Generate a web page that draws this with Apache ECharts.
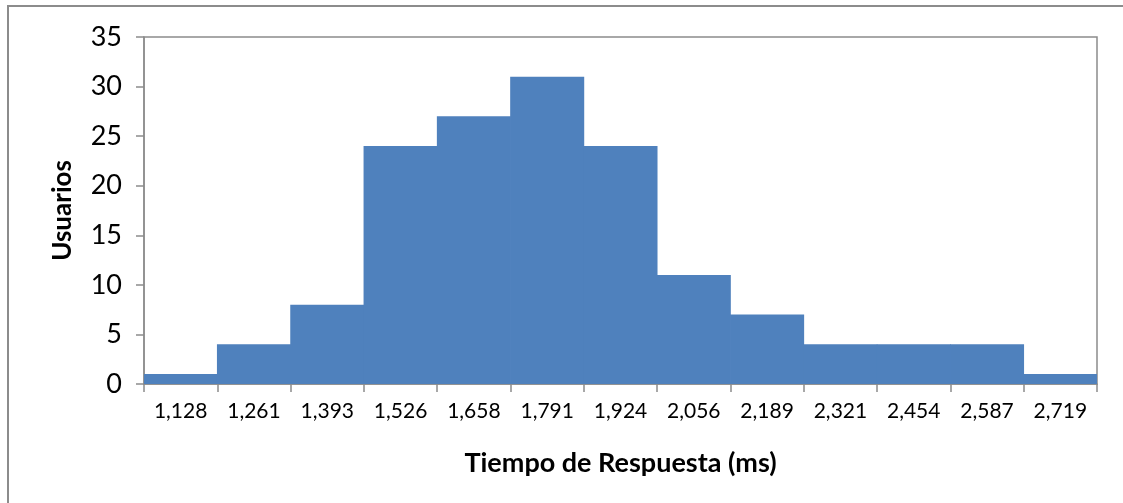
<!DOCTYPE html>
<html>
<head>
<meta charset="utf-8">
<script src="https://cdn.jsdelivr.net/npm/echarts@6/dist/echarts.min.js"></script>
<style>
  html, body { margin: 0; padding: 0; background: #fff; }
  #chart { width: 1123px; height: 503px; }
</style>
</head>
<body>
<div id="chart"></div>
<script>
// Histogram of response times: bin labels and user counts per bin
const binLabels = ['1,128', '1,261', '1,393', '1,526', '1,658', '1,791', '1,924',
                   '2,056', '2,189', '2,321', '2,454', '2,587', '2,719'];
const userCounts = [1, 4, 8, 24, 27, 31, 24, 11, 7, 4, 4, 4, 1];
const yTicks = { min: 0, max: 35, interval: 5 };

const font = 'Lato, "Open Sans", "Noto Sans", sans-serif';
const chart = echarts.init(document.getElementById('chart'), null, { renderer: 'canvas' });

chart.setOption({
  animation: false,
  backgroundColor: '#ffffff',
  graphic: [{
    type: 'rect',
    shape: { x: 8, y: 6, width: 1300, height: 700 },
    style: { fill: 'none', stroke: '#8c8c8c', lineWidth: 2 },
    silent: true
  }],
  grid: {
    left: 144, right: 26, top: 37, bottom: 119,
    show: true, borderColor: '#8c8c8c', borderWidth: 1.5
  },
  xAxis: {
    type: 'category',
    data: binLabels,
    boundaryGap: true,
    name: 'Tiempo de Respuesta (ms)',
    nameLocation: 'middle',
    nameGap: 66,
    nameTextStyle: { fontFamily: font, fontSize: 27, fontWeight: 'bold', color: '#000' },
    axisLine: { lineStyle: { color: '#8c8c8c', width: 1.5 } },
    axisTick: { show: true, length: 8, alignWithLabel: false, lineStyle: { color: '#8c8c8c', width: 1.5 } },
    axisLabel: { fontFamily: font, fontSize: 21, color: '#000', margin: 17, interval: 0 },
    splitLine: { show: false }
  },
  yAxis: {
    type: 'value',
    min: yTicks.min, max: yTicks.max, interval: yTicks.interval,
    name: 'Usuarios',
    nameLocation: 'middle',
    nameGap: 68,
    nameRotate: 90,
    nameTextStyle: { fontFamily: font, fontSize: 26, fontWeight: 'bold', color: '#000' },
    axisLine: { show: true, lineStyle: { color: '#8c8c8c', width: 1.5 } },
    axisTick: { show: true, length: 8, lineStyle: { color: '#8c8c8c', width: 1.5 } },
    axisLabel: { fontFamily: font, fontSize: 27, color: '#000', margin: 22 },
    splitLine: { show: false }
  },
  series: [{
    type: 'bar',
    data: userCounts,
    barCategoryGap: '-1%',
    itemStyle: { color: '#4f81bd' }
  }]
});
</script>
</body>
</html>
